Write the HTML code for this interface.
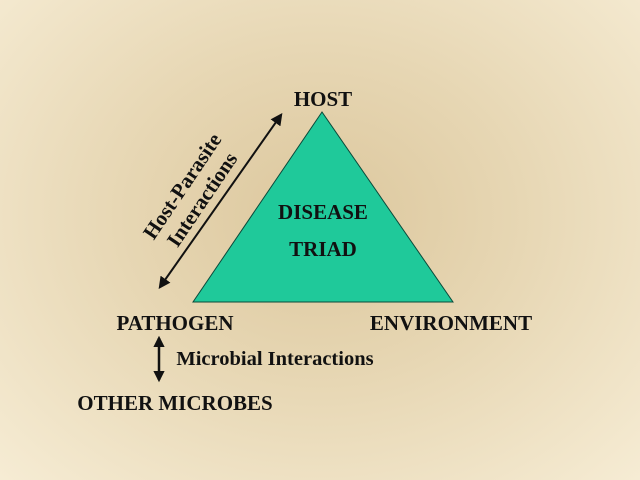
<!DOCTYPE html>
<html><head><style>
body{margin:0;width:640px;height:480px;overflow:hidden;background:radial-gradient(ellipse at 50% 45%,#dcc79d 0%,#e7d7b4 45%,#f6ecd4 100%);font-family:"Liberation Serif",serif;font-weight:bold;color:#111}
</style></head><body>
<svg width="640" height="480" style="position:absolute;left:0;top:0" font-family="Liberation Serif, serif" font-weight="bold" fill="#111">
<defs><marker id="a" viewBox="0 0 10 10" refX="8" refY="5" markerWidth="6" markerHeight="6" orient="auto-start-reverse"><path d="M0,0L10,5L0,10z" fill="#111"/></marker>
<marker id="b" viewBox="0 0 10 10" refX="8" refY="5" markerWidth="4.5" markerHeight="4.5" orient="auto-start-reverse"><path d="M0,0L10,5L0,10z" fill="#111"/></marker></defs>
<polygon points="322,112 193,302 453,302" fill="#1fc99a" stroke="#0a4a3a" stroke-width="1"/>
<line x1="160" y1="287" x2="281" y2="115" stroke="#111" stroke-width="2" marker-start="url(#a)" marker-end="url(#a)"/>
<line x1="159" y1="338" x2="159" y2="380" stroke="#111" stroke-width="2.5" marker-start="url(#b)" marker-end="url(#b)"/>
<text x="323" y="106" font-size="21" text-anchor="middle">HOST</text>
<text x="323" y="219" font-size="21" text-anchor="middle">DISEASE</text>
<text x="323" y="256" font-size="21" text-anchor="middle">TRIAD</text>
<text x="175" y="330" font-size="21" text-anchor="middle">PATHOGEN</text>
<text x="451" y="330" font-size="21" text-anchor="middle">ENVIRONMENT</text>
<text x="275" y="365" font-size="20.5" text-anchor="middle">Microbial Interactions</text>
<text x="175" y="410" font-size="21" text-anchor="middle">OTHER MICROBES</text>
<g transform="translate(188,190) rotate(-56)"><text x="0" y="0" font-size="21" text-anchor="middle">Host-Parasite</text><text x="0" y="24" font-size="21" text-anchor="middle">Interactions</text></g>
</svg>
</body></html>
